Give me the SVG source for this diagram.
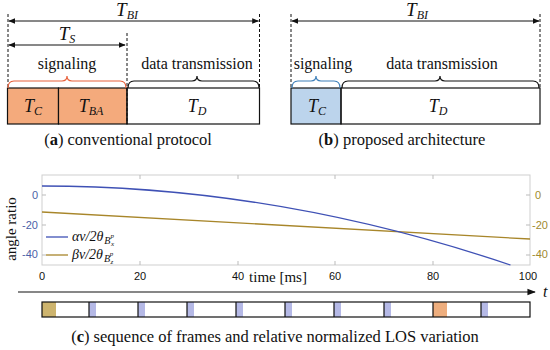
<svg xmlns="http://www.w3.org/2000/svg" width="550" height="350" viewBox="0 0 550 350">
<defs>
<style>
.serif{font-family:"Liberation Serif","Times New Roman",serif;fill:#111}
.it{font-style:italic}
.lbl{font-size:16px}
.cap{font-size:16.5px}
.math{font-size:18px}
.big{font-size:19px}
.sub{font-size:12px}
.dash{stroke:#111;stroke-width:1;stroke-dasharray:3,2;fill:none}
.box{stroke:#111;stroke-width:1.2;fill:none}
.arr{stroke:#111;stroke-width:1;fill:none}
.tick{font-family:"Liberation Sans",Arial,sans-serif;font-size:11px}
.tl{fill:#4c5fa8}
.tr{fill:#a08a2e}
.ax{stroke:#cfcfcf;stroke-width:1;fill:none}
</style>
<marker id="ah" viewBox="0 0 10 10" refX="9" refY="5" markerWidth="7" markerHeight="7" orient="auto-start-reverse">
<path d="M0,1 L10,5 L0,9 z" fill="#111"/>
</marker>
</defs>

<!-- Panel (a) -->
<g id="panel-a">
<g id="a-TC"><rect x="7.5" y="88" width="51" height="36" fill="#f4aa7c" stroke="#111" stroke-width="1.2"/>
<text class="serif math it" x="33" y="112" text-anchor="middle">T<tspan class="sub" dy="3">C</tspan></text></g>
<g id="a-TBA"><rect x="58.5" y="88" width="68.5" height="36" fill="#f4aa7c" stroke="#111" stroke-width="1.2"/>
<text class="serif math it" x="91" y="112" text-anchor="middle">T<tspan class="sub" dy="3">BA</tspan></text></g>
<g id="a-TD"><rect x="127" y="88" width="132.5" height="36" class="box" fill="#fff"/>
<text class="serif math it" x="197" y="112" text-anchor="middle">T<tspan class="sub" dy="3">D</tspan></text></g>
<text class="serif lbl" x="67" y="69" text-anchor="middle">signaling</text>
<text class="serif lbl" x="197" y="69" text-anchor="middle">data transmission</text>
<text class="serif big it" x="127" y="16" text-anchor="middle">T<tspan class="sub" dy="3">BI</tspan></text>
<text class="serif big it" x="67" y="40" text-anchor="middle">T<tspan class="sub" dy="3">S</tspan></text>
<text class="serif cap" x="128" y="145" text-anchor="middle">(<tspan font-weight="bold">a</tspan>) conventional protocol</text>
</g>

<!-- Panel (b) -->
<g id="panel-b">
<g id="b-TC"><rect x="291" y="88" width="50" height="36" fill="#bcd4ec" stroke="#111" stroke-width="1.2"/>
<text class="serif math it" x="317" y="112" text-anchor="middle">T<tspan class="sub" dy="3">C</tspan></text></g>
<g id="b-TD"><rect x="341" y="88" width="199" height="36" class="box"/>
<text class="serif math it" x="438" y="112" text-anchor="middle">T<tspan class="sub" dy="3">D</tspan></text></g>
<text class="serif lbl" x="323" y="69" text-anchor="middle">signaling</text>
<text class="serif lbl" x="442" y="69" text-anchor="middle">data transmission</text>
<text class="serif big it" x="417" y="16" text-anchor="middle">T<tspan class="sub" dy="3">BI</tspan></text>
<text class="serif cap" x="402" y="145" text-anchor="middle">(<tspan font-weight="bold">b</tspan>) proposed architecture</text>
</g>

<!-- connectors: dimension lines, dashed guides, braces -->
<g id="connectors">
<line class="dash" x1="8" y1="14" x2="8" y2="88"/>
<line class="dash" x1="127" y1="33" x2="127" y2="124"/>
<line class="dash" x1="259.5" y1="14" x2="259.5" y2="88"/>
<line class="arr" x1="9" y1="21" x2="258.5" y2="21" marker-start="url(#ah)" marker-end="url(#ah)"/>
<line class="arr" x1="9" y1="45" x2="125" y2="45" marker-start="url(#ah)" marker-end="url(#ah)"/>
<path d="M8,88 Q8,81 14,81 L62,81 Q67,81 67,76 Q67,81 72,81 L120,81 Q126,81 126,88" fill="none" stroke="#e8603a" stroke-width="1.2"/>
<path d="M128,88 Q128,81 134,81 L192,81 Q197,81 197,76 Q197,81 202,81 L253,81 Q259,81 259,88" fill="none" stroke="#111" stroke-width="1.2"/>

<line class="dash" x1="291" y1="14" x2="291" y2="88"/>
<line class="dash" x1="540" y1="14" x2="540" y2="88"/>
<line class="arr" x1="292" y1="21" x2="539" y2="21" marker-start="url(#ah)" marker-end="url(#ah)"/>
<path d="M292,88 Q292,81 298,81 L311,81 Q316,81 316,76 Q316,81 321,81 L334,81 Q340,81 340,88" fill="none" stroke="#3d7fb8" stroke-width="1.2"/>
<path d="M342,88 Q342,81 348,81 L435,81 Q440,81 440,76 Q440,81 445,81 L533,81 Q539,81 539,88" fill="none" stroke="#111" stroke-width="1.2"/>
</g>

<!-- Panel (c) plot -->
<g id="plot">
<rect x="42" y="175" width="488" height="90" class="ax" fill="#fff"/>
<g stroke="#bbb" stroke-width="1">
<line x1="140" y1="265" x2="140" y2="261"/><line x1="238" y1="265" x2="238" y2="261"/><line x1="335" y1="265" x2="335" y2="261"/><line x1="433" y1="265" x2="433" y2="261"/>
<line x1="140" y1="175" x2="140" y2="179"/><line x1="238" y1="175" x2="238" y2="179"/><line x1="335" y1="175" x2="335" y2="179"/><line x1="433" y1="175" x2="433" y2="179"/>
<line x1="42" y1="195" x2="46" y2="195"/><line x1="42" y1="225" x2="46" y2="225"/><line x1="42" y1="255" x2="46" y2="255"/>
<line x1="530" y1="195" x2="526" y2="195"/><line x1="530" y1="225" x2="526" y2="225"/><line x1="530" y1="255" x2="526" y2="255"/>
</g>
<line x1="42" y1="212" x2="530" y2="239" stroke="#a8862a" stroke-width="1.3"/>
<path d="M42,186 Q276,186 510.5,265" fill="none" stroke="#3f51b5" stroke-width="1.3"/>
<text class="tick tl" x="38" y="199" text-anchor="end">0</text>
<text class="tick tl" x="38" y="229" text-anchor="end">-20</text>
<text class="tick tl" x="38" y="258" text-anchor="end">-40</text>
<text class="tick tr" x="535" y="199">0</text>
<text class="tick tr" x="532" y="229">-20</text>
<text class="tick tr" x="532" y="258">-40</text>
<g class="tick" fill="#111" text-anchor="middle">
<text x="42" y="280">0</text><text x="140" y="280">20</text><text x="238" y="280">40</text><text x="335" y="280">60</text><text x="433" y="280">80</text><text x="528" y="280">100</text>
</g>
<text class="serif" font-size="15" x="278" y="282" text-anchor="middle">time [ms]</text>
<text class="serif" font-size="15" transform="translate(16,229) rotate(-90)" text-anchor="middle">angle ratio</text>
<g id="legend">
<line x1="46" y1="237" x2="68" y2="237" stroke="#3f51b5" stroke-width="1.3"/>
<line x1="46" y1="255" x2="68" y2="255" stroke="#a8862a" stroke-width="1.3"/>
<text class="serif it" font-size="14" x="72" y="241">αv/2θ<tspan font-size="10" dx="1" dy="3">B</tspan><tspan font-size="7" dx="0.5" dy="2">x</tspan><tspan font-size="7" dx="-3.5" dy="-8">p</tspan></text>
<text class="serif it" font-size="14" x="72" y="259">βv/2θ<tspan font-size="10" dx="1" dy="3">B</tspan><tspan font-size="7" dx="0.5" dy="2">z</tspan><tspan font-size="7" dx="-3.5" dy="-8">p</tspan></text>
</g>
</g>

<!-- Timeline -->
<g id="timeline">
<line x1="18" y1="292" x2="535" y2="292" stroke="#111" stroke-width="1.2" marker-end="url(#ah)"/>
<text class="serif it" font-size="16" x="543" y="297">t</text>
</g>
<g id="frames">
<rect x="42" y="302" width="14" height="15" fill="#cdb46e"/>
<rect x="89" y="302" width="7" height="15" fill="#b5b9e6"/>
<rect x="138" y="302" width="7" height="15" fill="#b5b9e6"/>
<rect x="187" y="302" width="7" height="15" fill="#b5b9e6"/>
<rect x="236" y="302" width="7" height="15" fill="#b5b9e6"/>
<rect x="285" y="302" width="7" height="15" fill="#b5b9e6"/>
<rect x="334" y="302" width="7" height="15" fill="#b5b9e6"/>
<rect x="384" y="302" width="7" height="15" fill="#b5b9e6"/>
<rect x="433" y="302" width="14" height="15" fill="#eeae7e"/>
<rect x="481" y="302" width="7" height="15" fill="#b5b9e6"/>
<rect x="42" y="302" width="488" height="15" class="box"/>
<g stroke="#111" stroke-width="1.2">
<line x1="89" y1="302" x2="89" y2="317"/><line x1="138" y1="302" x2="138" y2="317"/><line x1="187" y1="302" x2="187" y2="317"/><line x1="236" y1="302" x2="236" y2="317"/><line x1="285" y1="302" x2="285" y2="317"/><line x1="334" y1="302" x2="334" y2="317"/><line x1="384" y1="302" x2="384" y2="317"/><line x1="433" y1="302" x2="433" y2="317"/><line x1="481" y1="302" x2="481" y2="317"/>
</g>
</g>
<text class="serif cap" x="275" y="342" text-anchor="middle">(<tspan font-weight="bold">c</tspan>) sequence of frames and relative normalized LOS variation</text>
</svg>
